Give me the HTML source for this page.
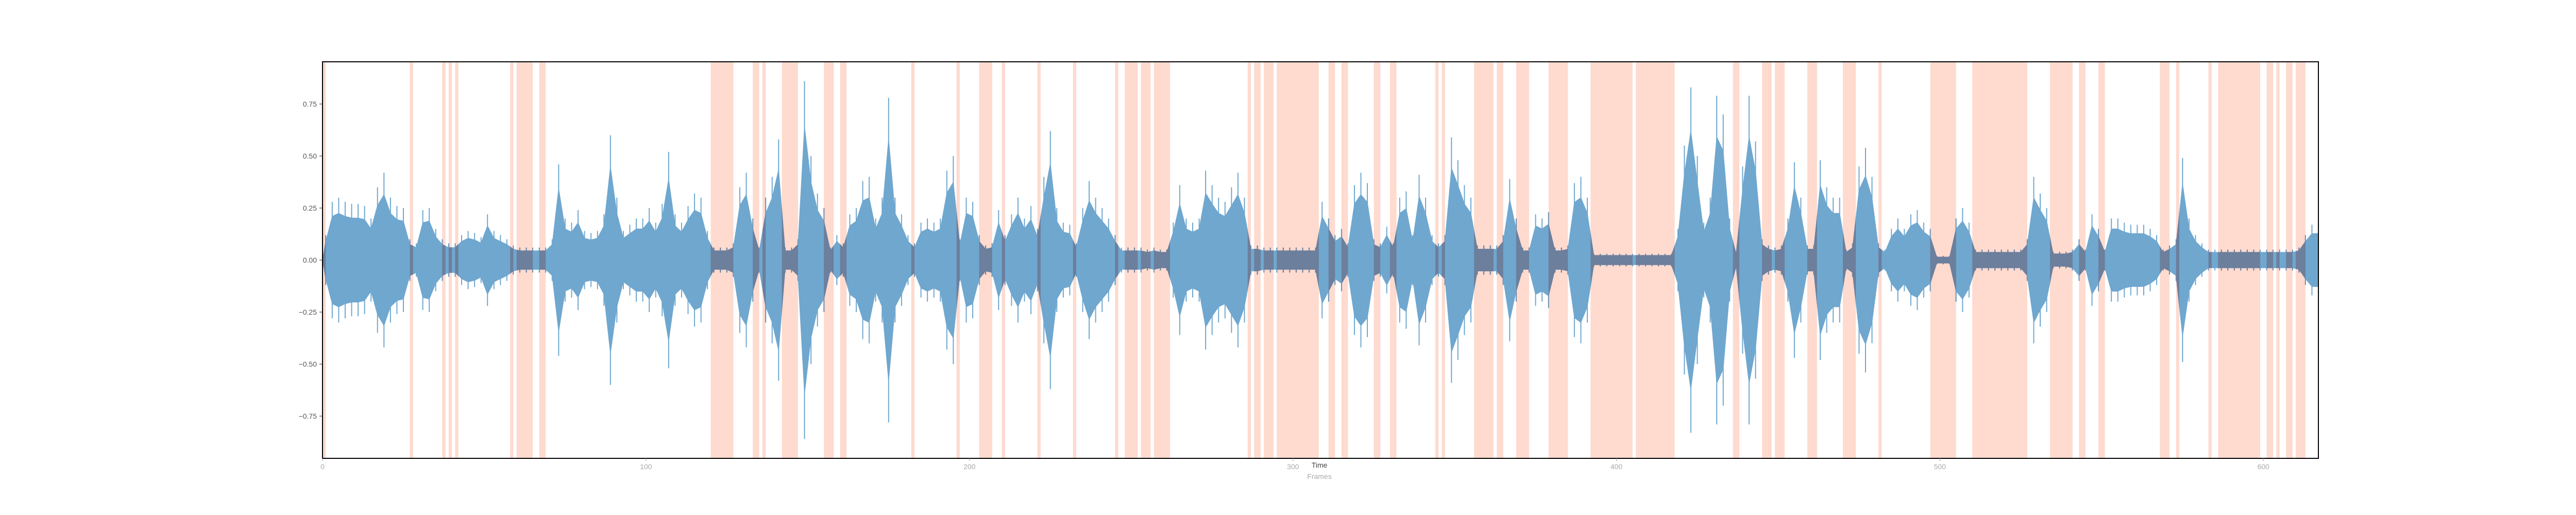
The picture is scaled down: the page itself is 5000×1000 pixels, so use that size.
<!DOCTYPE html>
<html><head><meta charset="utf-8"><style>
html,body{margin:0;padding:0;background:#fff;}
svg{display:block;font-family:"Liberation Sans","DejaVu Sans",sans-serif;}
</style></head><body>
<svg id="chart" width="5000" height="1000" viewBox="0 0 5000 1000" xmlns="http://www.w3.org/2000/svg">
<defs><clipPath id="plotclip"><rect x="626" y="120" width="3874" height="770"/></clipPath><clipPath id="spanclip"></clipPath></defs>
<g id="spans" clip-path="url(#plotclip)"></g>
<g id="wave" clip-path="url(#plotclip)"></g>
<g id="wavedark" clip-path="url(#spanclip)"></g>
<rect x="626" y="120" width="3874" height="770" fill="none" stroke="#000" stroke-width="2"/>
<g id="yaxis"></g>
<g id="xaxis"></g>
<text x="2561" y="908" font-size="14" fill="#444" text-anchor="middle">Time</text>
<text x="2561" y="930" font-size="14" fill="#aaa" text-anchor="middle">Frames</text>
</svg>
<script>
const spanStarts = [0,27,37,39,41,58,60,67,120,133,136,142,155,160,182,196,203,210,221,232,245,248,253,257,286,288,291,295,311,315,325,330,344,346,356,363,369,379,392,406,436,445,449,459,470,481,497,510,534,543,549,568,573,583,586,601,604,607,610];
const spanEnds   = [1,28,38,40,42,59,65,69,127,135,137,147,158,162,183,197,207,211,222,233,246,252,256,262,287,290,294,308,313,317,327,332,345,347,362,365,373,385,405,418,438,448,452,462,474,482,505,527,541,545,551,571,574,584,599,603,605,609,613];
const binSize = 2;
const amps = [0.12,0.28,0.3,0.28,0.27,0.27,0.26,0.2,0.35,0.42,0.3,0.26,0.25,0.1,0.08,0.24,0.25,0.15,0.1,0.08,
0.08,0.12,0.14,0.13,0.11,0.22,0.14,0.12,0.1,0.07,0.06,0.06,0.06,0.06,0.06,0.1,0.46,0.2,0.18,0.24,
0.14,0.13,0.14,0.22,0.6,0.3,0.14,0.17,0.2,0.2,0.25,0.18,0.27,0.52,0.22,0.18,0.26,0.32,0.3,0.14,
0.06,0.06,0.06,0.08,0.35,0.42,0.2,0.06,0.3,0.4,0.58,0.06,0.06,0.1,0.86,0.5,0.32,0.25,0.06,0.12,
0.08,0.22,0.25,0.38,0.4,0.2,0.3,0.78,0.3,0.22,0.12,0.08,0.18,0.2,0.18,0.2,0.43,0.5,0.1,0.3,
0.28,0.12,0.07,0.08,0.24,0.12,0.22,0.3,0.2,0.26,0.15,0.4,0.62,0.25,0.18,0.17,0.08,0.25,0.38,0.3,
0.25,0.2,0.12,0.06,0.06,0.06,0.06,0.05,0.06,0.05,0.05,0.18,0.36,0.2,0.18,0.2,0.43,0.36,0.3,0.28,
0.35,0.42,0.3,0.07,0.07,0.06,0.06,0.06,0.06,0.06,0.06,0.06,0.06,0.06,0.28,0.2,0.12,0.15,0.08,0.36,
0.42,0.37,0.1,0.08,0.16,0.08,0.3,0.33,0.12,0.41,0.3,0.12,0.08,0.12,0.59,0.48,0.36,0.3,0.07,0.07,
0.07,0.07,0.12,0.39,0.2,0.06,0.06,0.22,0.2,0.23,0.06,0.06,0.07,0.37,0.4,0.3,0.03,0.03,0.03,0.03,
0.03,0.03,0.03,0.03,0.03,0.03,0.03,0.03,0.03,0.15,0.55,0.83,0.5,0.18,0.3,0.79,0.7,0.2,0.04,0.45,
0.79,0.57,0.1,0.07,0.06,0.07,0.2,0.47,0.3,0.07,0.07,0.48,0.35,0.3,0.3,0.05,0.08,0.45,0.54,0.4,
0.08,0.05,0.15,0.2,0.15,0.22,0.24,0.18,0.15,0.02,0.02,0.02,0.2,0.25,0.18,0.05,0.05,0.05,0.05,0.05,
0.05,0.05,0.05,0.1,0.4,0.32,0.25,0.04,0.04,0.04,0.05,0.1,0.05,0.22,0.15,0.05,0.2,0.2,0.18,0.17,
0.17,0.17,0.15,0.12,0.05,0.07,0.1,0.49,0.2,0.12,0.08,0.05,0.05,0.05,0.05,0.05,0.05,0.05,0.05,0.05,
0.05,0.05,0.05,0.05,0.05,0.06,0.12,0.17,0.17];
const yTicks = [0.75,0.5,0.25,0,-0.25,-0.5,-0.75];
const yTickLabels = ["0.75","0.50","0.25","0.00","\u22120.25","\u22120.50","\u22120.75"];
const xTicks = [0,100,200,300,400,500,600];
const xTickLabels = ["0","100","200","300","400","500","600"];

const NS="http://www.w3.org/2000/svg";
const X0=626, X1=4500, XMAX=617, Y0=505, YS=404;
function xs(f){return X0+f*(X1-X0)/XMAX;}
function ys(v){return Y0-v*YS;}
function mk(tag,attrs,parent){const e=document.createElementNS(NS,tag);for(const k in attrs)e.setAttribute(k,attrs[k]);parent.appendChild(e);return e;}

const spansG=document.getElementById('spans'), clip=document.getElementById('spanclip');
for(let i=0;i<spanStarts.length;i++){
  const r=mk('rect',{x:xs(spanStarts[i]),y:120,width:xs(spanEnds[i])-xs(spanStarts[i]),height:770,fill:'#fedacf'},spansG);
  
  
  mk('rect',{x:xs(spanStarts[i]),y:120,width:xs(spanEnds[i])-xs(spanStarts[i]),height:770},clip);
}
function drawWave(g,color){
  const top=[], bot=[];
  let dl='';
  for(let i=0;i<amps.length;i++){
    const a=amps[i], xm=xs((i+0.5)*binSize);
    top.push(`${xm},${ys(a*0.75)}`);
    bot.push(`${xm},${ys(-a*0.75)}`);
    dl+=`M${xm},${ys(a)}V${ys(-a)}`;
  }
  const d='M'+xs(0)+','+ys(0)+'L'+top.join('L')+'L'+xs(amps.length*binSize)+','+ys(0)+'L'+bot.reverse().join('L')+'Z';
  const p=mk('path',{d:d,fill:color,stroke:color,'stroke-width':1},g);
  
  
  const l=mk('path',{d:dl,stroke:color,'stroke-width':2,fill:'none'},g);
  
  
}
drawWave(document.getElementById('wave'),'#6fa7cf');
drawWave(document.getElementById('wavedark'),'#6c7f9c');

const ya=document.getElementById('yaxis');
yTicks.forEach((v,i)=>{
  const y=ys(v);
  mk('line',{x1:620,x2:626,y1:y,y2:y,stroke:'#444','stroke-width':1.2},ya);
  const t=mk('text',{x:615,y:y+5,'font-size':14,fill:'#555','text-anchor':'end'},ya);
  t.textContent=yTickLabels[i];
  
  
});
const xa=document.getElementById('xaxis');
xTicks.forEach((v,i)=>{
  const x=xs(v);
  mk('line',{x1:x,x2:x,y1:890,y2:895,stroke:'#aaa','stroke-width':1.2},xa);
  const t=mk('text',{x:x,y:911,'font-size':14,fill:'#aaa','text-anchor':'middle'},xa);
  t.textContent=xTickLabels[i];
  
  
});
</script>
</body></html>
